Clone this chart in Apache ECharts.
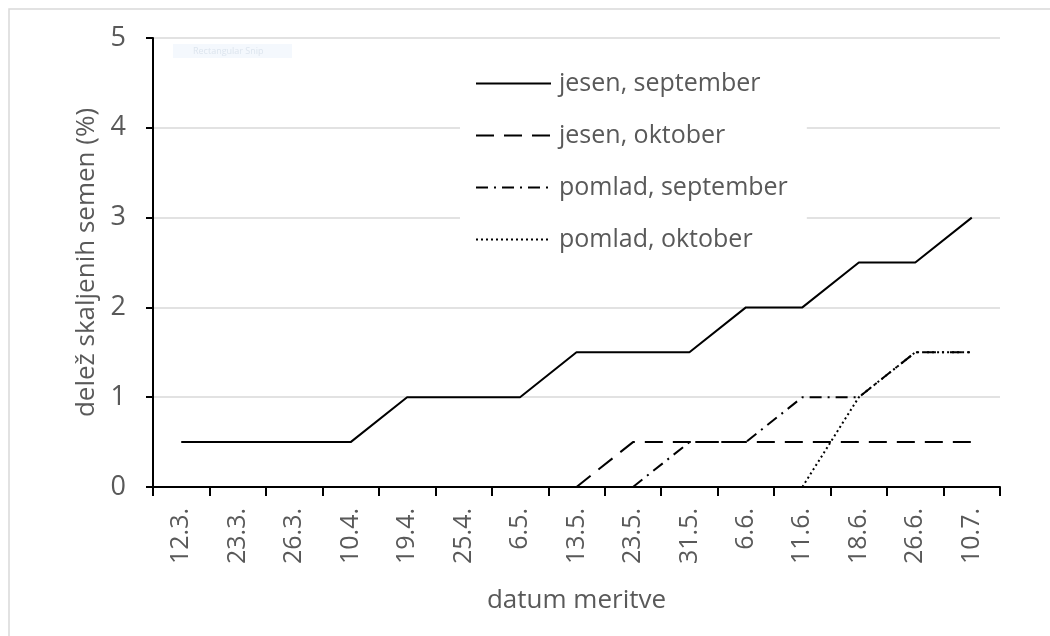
<!DOCTYPE html>
<html>
<head>
<meta charset="utf-8">
<script src="https://cdn.jsdelivr.net/npm/echarts@6/dist/echarts.min.js"></script>
<style>
html,body{margin:0;padding:0;background:#fff;}
#chart{width:1050px;height:636px;}
</style>
</head>
<body>
<div id="chart"></div>
<script>
const categories = ['12.3.','23.3.','26.3.','10.4.','19.4.','25.4.','6.5.','13.5.','23.5.','31.5.','6.6.','11.6.','18.6.','26.6.','10.7.'];
const jesenSeptember = [0.5,0.5,0.5,0.5,1,1,1,1.5,1.5,1.5,2,2,2.5,2.5,3];
const jesenOktober   = [null,null,null,null,null,null,null,0,0.5,0.5,0.5,0.5,0.5,0.5,0.5];
const pomladSeptember= [null,null,null,null,null,null,null,null,0,0.5,0.5,1,1,1.5,1.5];
const pomladOktober  = [null,null,null,null,null,null,null,null,null,null,null,0,1,1.5,1.5];
const seriesNames = ['jesen, september','jesen, oktober','pomlad, september','pomlad, oktober'];
const yTicks = [0,1,2,3,4,5];

const FONT = 'Open Sans';
const TXT = '#595959';
const FS = 25;

const chart = echarts.init(document.getElementById('chart'), null, {renderer:'canvas'});
function mk(name, data, type){
  return {
    name, type:'line', data, symbol:'none', connectNulls:false,
    lineStyle:{color:'#000', width:2, type:type},
    itemStyle:{color:'#000'},
    z:3
  };
}
chart.setOption({
  backgroundColor:'#fff',
  animation:false,
  graphic:[
    {type:'rect', shape:{x:9,y:9,width:1100,height:700}, style:{fill:'none', stroke:'#d9d9d9', lineWidth:1.5}, z:-1, silent:true},
    {type:'rect', shape:{x:173,y:44,width:119,height:14}, style:{fill:'#f4f8fd'}, z:1, silent:true},
    {type:'text', x:193, y:51, style:{text:'Rectangular Snip', fill:'#dde5ee', font:'9px "Open Sans"', textVerticalAlign:'middle'}, z:2, silent:true}
  ],
  grid:{left:153, right:50, top:38, bottom:149, containLabel:false},
  legend:{
    orient:'vertical', left:460, top:61,
    data:seriesNames,
    backgroundColor:'#fff',
    padding:[10,19,16,15],
    itemWidth:75, itemHeight:24, itemGap:27,
    itemStyle:{opacity:0},
    textStyle:{color:TXT, fontFamily:FONT, fontSize:FS, lineHeight:24, padding:[0,0,0,3]}
  },
  xAxis:{
    type:'category', data:categories, boundaryGap:true,
    axisLine:{lineStyle:{color:'#000', width:2}},
    axisTick:{show:true, length:9, inside:false, lineStyle:{color:'#000', width:2}},
    axisLabel:{rotate:90, margin:21, color:TXT, fontFamily:FONT, fontSize:FS, interval:0},
    name:'datum meritve', nameLocation:'middle', nameGap:101,
    nameTextStyle:{color:TXT, fontFamily:FONT, fontSize:26}
  },
  yAxis:{
    type:'value', min:0, max:5, interval:1,
    axisLine:{show:true, lineStyle:{color:'#000', width:2}},
    axisTick:{show:true, length:7, lineStyle:{color:'#000', width:2}},
    axisLabel:{margin:27, color:TXT, fontFamily:FONT, fontSize:27},
    splitLine:{show:true, lineStyle:{color:'#d9d9d9', width:1.5}},
    name:'delež skaljenih semen (%)', nameLocation:'middle', nameGap:53,
    nameTextStyle:{color:TXT, fontFamily:FONT, fontSize:26}
  },
  series:[
    mk(seriesNames[0], jesenSeptember, 'solid'),
    mk(seriesNames[1], jesenOktober, [18,10]),
    mk(seriesNames[2], pomladSeptember, [12,6,2,6]),
    mk(seriesNames[3], pomladOktober, [2,3])
  ]
});
</script>
</body>
</html>
